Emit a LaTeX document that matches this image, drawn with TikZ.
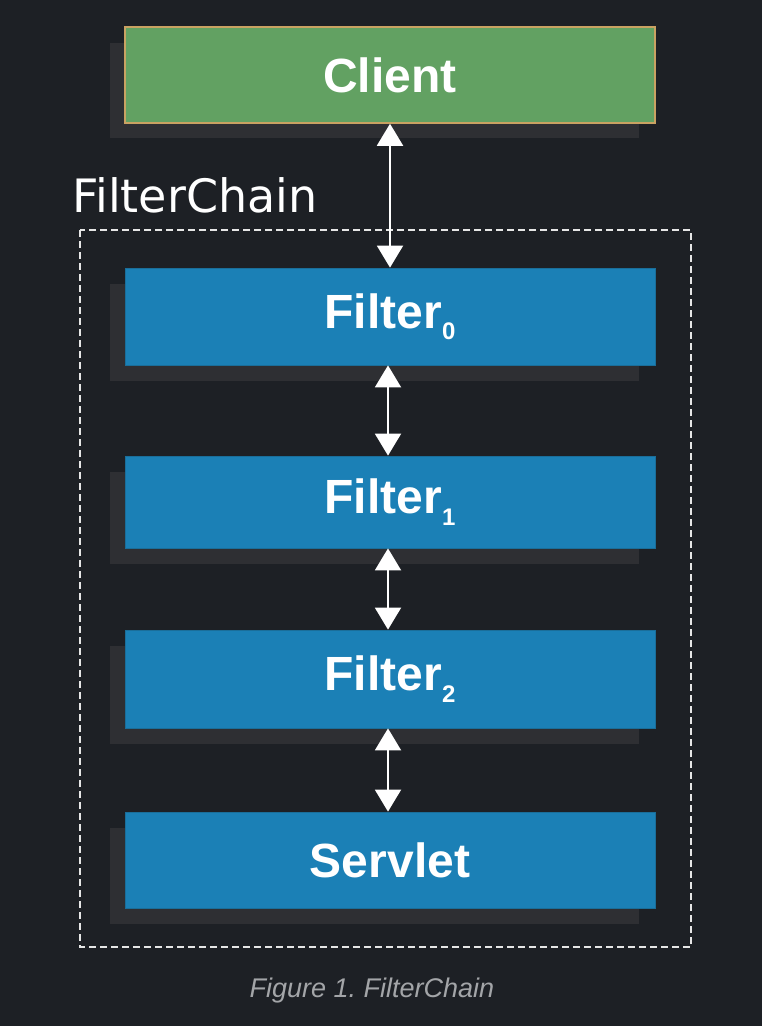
\documentclass[tikz,border=0pt]{standalone}
\usepackage{fontspec}
\setmainfont{Liberation Sans}
\newfontfamily\chainfont{DejaVu Sans}
\usetikzlibrary{arrows.meta}
\definecolor{bgc}{HTML}{1D2025}
\definecolor{shadowc}{HTML}{2E2F33}
\definecolor{greenc}{HTML}{62A162}
\definecolor{tanc}{HTML}{C9A262}
\definecolor{bluec}{HTML}{1B80B6}
\definecolor{blueedge}{HTML}{1A6E9A}
\definecolor{capc}{HTML}{A3A5A8}
\definecolor{dashc}{HTML}{E6E6E6}
\begin{document}
\begin{tikzpicture}[x=1pt,y=-1pt,
  box/.style={rectangle,minimum width=530pt,text=white,inner sep=0pt,
    font=\fontsize{48}{52}\selectfont\bfseries},
  clientbox/.style={box,fill=greenc,draw=tanc,line width=1.5pt},
  bluebox/.style={box,fill=bluec,draw=blueedge,line width=0.8pt},
  link/.style={draw=white,line width=2pt,{Triangle[width=26pt,length=22pt]}-{Triangle[width=26pt,length=22pt]}},
  chain/.style={draw=dashc,line width=2pt,dash pattern=on 7pt off 4pt}]
\useasboundingbox[fill=bgc] (0,0) rectangle (762,1026);
% shadows
\fill[shadowc] (110,43) rectangle (639,138);
\fill[shadowc] (110,284) rectangle (639,381);
\fill[shadowc] (110,472) rectangle (639,564);
\fill[shadowc] (110,646) rectangle (639,744);
\fill[shadowc] (110,828) rectangle (639,924);
% boxes
\node[clientbox,minimum height=96pt] (client) at (390,75) {Client};
\node[bluebox,minimum height=97pt] (f0) at (390,316.5) {Filter\raisebox{-0.45ex}{\fontsize{24}{26}\selectfont 0}};
\node[bluebox,minimum height=92pt] (f1) at (390,502) {Filter\raisebox{-0.45ex}{\fontsize{24}{26}\selectfont 1}};
\node[bluebox,minimum height=98pt] (f2) at (390,679) {Filter\raisebox{-0.45ex}{\fontsize{24}{26}\selectfont 2}};
\node[bluebox,minimum height=96pt] (servlet) at (390,860) {Servlet};
% chain frame
\draw[chain] (80,230) rectangle (691,947);
\node[anchor=base west,text=white,inner sep=0pt,font=\chainfont\fontsize{46}{50}\selectfont] (lbl) at (72,212) {FilterChain};
% links
\draw[link] (client.south) -- (f0.north);
\draw[link] ([xshift=-2pt]f0.south) -- ([xshift=-2pt]f1.north);
\draw[link] ([xshift=-2pt]f1.south) -- ([xshift=-2pt]f2.north);
\draw[link] ([xshift=-2pt]f2.south) -- ([xshift=-2pt]servlet.north);
% caption
\node[anchor=base,text=capc,inner sep=0pt,font=\fontsize{27}{30}\selectfont\itshape] (cap) at (372,997) {Figure 1.\ FilterChain};
\end{tikzpicture}
\end{document}
